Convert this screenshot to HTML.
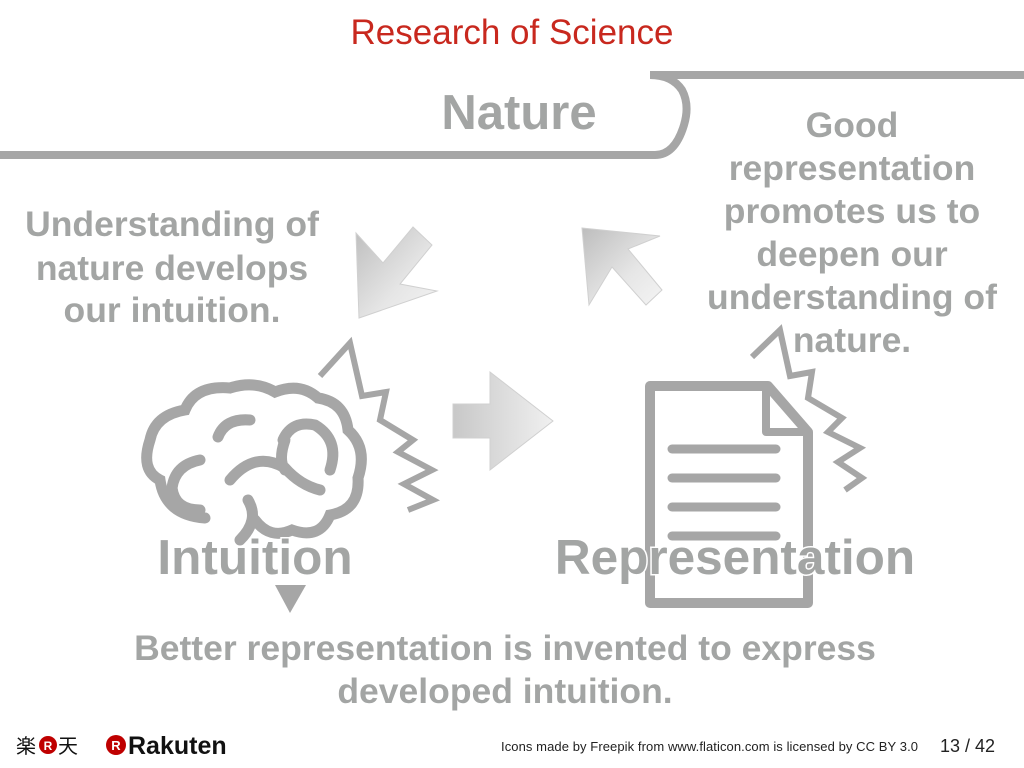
<!DOCTYPE html>
<html><head><meta charset="utf-8"><style>
html,body{margin:0;padding:0;background:#fff;width:1024px;height:768px;overflow:hidden}
svg{display:block}
text{font-family:"Liberation Sans",Arial,sans-serif}
.g{fill:#a3a5a4;font-weight:bold}
</style></head><body>
<svg width="1024" height="768" viewBox="0 0 1024 768">
<defs>
<linearGradient id="ag" x1="0" y1="0" x2="1" y2="1"><stop offset="0" stop-color="#bdbdbd"/><stop offset="0.6" stop-color="#e6e6e6"/><stop offset="1" stop-color="#f4f4f4"/></linearGradient>
<linearGradient id="ag2" x1="0" y1="0" x2="1" y2="0"><stop offset="0" stop-color="#c8c8c8"/><stop offset="1" stop-color="#f0f0f0"/></linearGradient>
</defs>
<text x="512" y="44" text-anchor="middle" font-size="35" fill="#c8281e">Research of Science</text>

<g fill="none" stroke="#a6a6a6" stroke-width="8">
<path d="M0 155 H655 Q675 155 684 125 Q690 105 682 90 Q672 75 650 75 H1024"/>
</g>
<text class="g" x="519" y="129" text-anchor="middle" font-size="49">Nature</text>

<g class="g" font-size="35.5" text-anchor="middle">
<text x="172" y="236">Understanding of</text>
<text x="172" y="280">nature develops</text>
<text x="172" y="322">our intuition.</text>
</g>
<g class="g" font-size="35.5" text-anchor="middle">
<text x="852" y="137">Good</text>
<text x="852" y="180">representation</text>
<text x="852" y="223">promotes us to</text>
<text x="852" y="266">deepen our</text>
<text x="852" y="309">understanding of</text>
<text x="852" y="352">nature.</text>
</g>

<polygon fill="url(#ag)" stroke="#d0d0d0" points="356,233 383,263 413,227 432,245 400,284 437,291 359,318"/>
<polygon fill="url(#ag)" stroke="#d0d0d0" points="582,228 660,236 628,249 662,290 646,305 612,267 589,305"/>
<polygon fill="url(#ag2)" stroke="#d0d0d0" points="453,404 490,404 490,372 553,421 490,470 490,438 453,438"/>

<polyline fill="none" stroke="#a6a6a6" stroke-width="6" points="320,376 350,343 362,396 386,392 380,420 413,440 398,452 432,470 404,484 433,500 408,510"/>
<polyline fill="none" stroke="#a6a6a6" stroke-width="6" points="752,357 780,330 790,376 812,372 808,398 842,418 828,432 860,448 838,462 862,478 845,490"/>

<g fill="none" stroke="#a6a6a6" stroke-width="11" stroke-linecap="round">
<path d="M205 518 Q165 515 160 480 Q140 470 150 440 Q155 415 185 410 Q195 385 230 388 Q255 380 275 392 Q300 382 318 398 Q345 402 348 430 Q368 448 358 478 Q360 510 330 515 Q320 540 292 530 Q270 540 255 520"/>
<path d="M218 437 Q225 418 250 420"/>
<path d="M283 440 Q292 420 315 425 Q340 440 330 470"/>
<path d="M285 440 Q278 460 285 470"/>
<path d="M200 460 Q175 465 172 488 Q175 510 200 510"/>
<path d="M230 480 Q255 450 285 468 Q300 485 320 490"/>
<path d="M248 500 Q260 520 240 540"/>
</g>

<g fill="none" stroke="#a6a6a6" stroke-width="10" stroke-linejoin="round">
<path d="M650 386 H768 L808 432 V603 H650 Z"/>
<path d="M766 386 V432 H806" stroke-width="8"/>
<g stroke-width="9" stroke-linecap="round">
<line x1="672" y1="449" x2="776" y2="449"/>
<line x1="672" y1="478" x2="776" y2="478"/>
<line x1="672" y1="507" x2="776" y2="507"/>
<line x1="672" y1="536" x2="776" y2="536"/>
</g>
</g>

<text class="g" x="255" y="574" text-anchor="middle" font-size="49.5" stroke="#fff" stroke-width="3" paint-order="stroke">Intuition</text>
<text class="g" x="735" y="574" text-anchor="middle" font-size="49.5" stroke="#fff" stroke-width="3" paint-order="stroke">Representation</text>
<polygon fill="#a6a6a6" points="275,585 306,585 290,613"/>

<g class="g" font-size="35.5" text-anchor="middle">
<text x="505" y="660">Better representation is invented to express</text>
<text x="505" y="703">developed intuition.</text>
</g>

<g>
<text x="16" y="753" font-size="20" fill="#111" font-family="Noto Sans CJK JP,sans-serif">楽</text>
<circle cx="48" cy="745" r="9" fill="#bf0000"/><text x="48" y="750" font-size="12" fill="#fff" text-anchor="middle" font-weight="bold">R</text>
<text x="58" y="753" font-size="20" fill="#111" font-family="Noto Sans CJK JP,sans-serif">天</text>
<circle cx="116" cy="745" r="10" fill="#bf0000"/><text x="116" y="750" font-size="13" fill="#fff" text-anchor="middle" font-weight="bold">R</text>
<text x="128" y="754" font-size="25" fill="#111" font-weight="bold">Rakuten</text>
</g>
<text x="501" y="751" font-size="13" fill="#222" textLength="417">Icons made by Freepik from www.flaticon.com is licensed by CC BY 3.0</text>
<text x="940" y="752" font-size="18" fill="#222">13 / 42</text>
</svg>
</body></html>
